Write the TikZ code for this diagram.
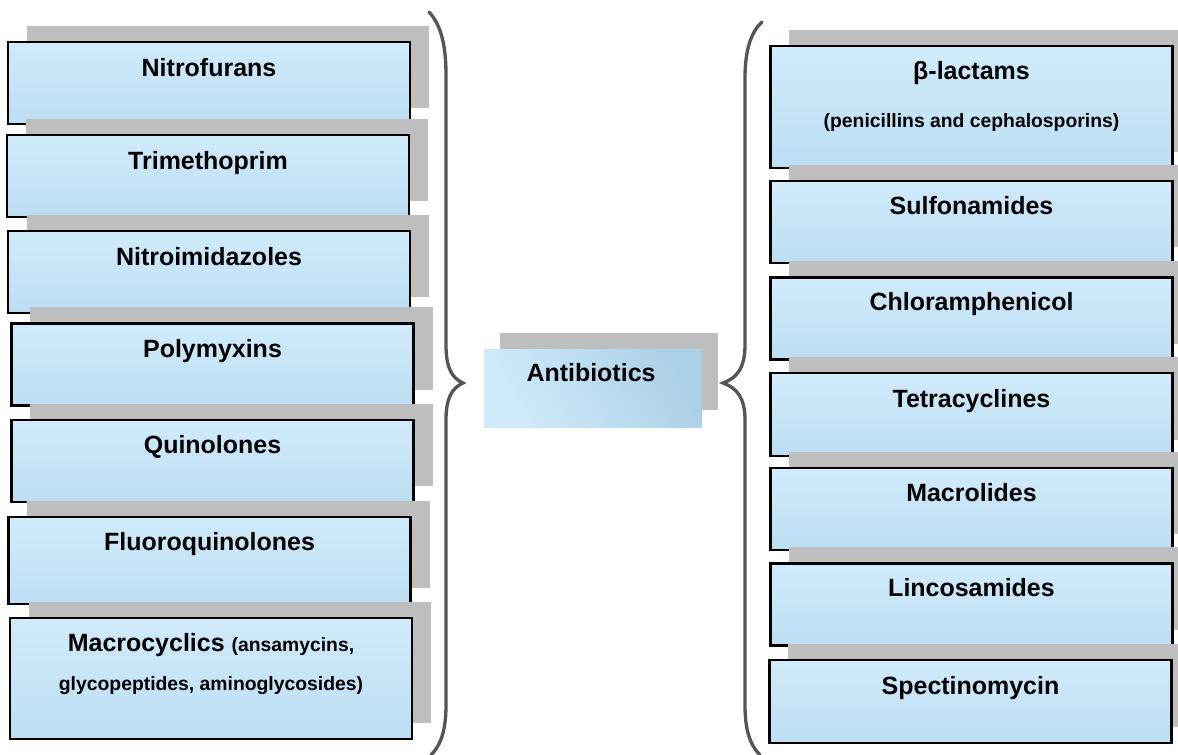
\documentclass[tikz,border=0pt]{standalone}
\usepackage{fontspec}
\setmainfont{Liberation Sans}
\usepackage{xcolor}
\usetikzlibrary{shadows}
\definecolor{xboxlight}{RGB}{208,235,250}
\definecolor{xboxblue}{RGB}{188,222,243}
\definecolor{xboxdark}{RGB}{172,208,232}
\definecolor{xshade}{RGB}{190,190,190}
\definecolor{xbrace}{RGB}{85,85,85}

\begin{document}
\begin{tikzpicture}[
  x=0.01cm, y=-0.01cm,
  drug/.style={draw=black, line width=0.65pt, top color=xboxlight, bottom color=xboxblue,
               minimum width=4.02cm, minimum height=0.82cm, inner sep=0pt,
               drop shadow={shadow xshift=0.19cm, shadow yshift=0.16cm, fill=xshade, opacity=1}},
  root/.style={left color=xboxlight, right color=xboxdark, shading angle=120,
               minimum width=2.18cm, minimum height=0.77cm, inner sep=0pt,
               drop shadow={shadow xshift=0.16cm, shadow yshift=0.17cm, fill=xshade, opacity=1}},
  drugtext/.style={anchor=base, inner sep=0pt, font=\fontsize{7.1}{8}\selectfont\bfseries},
  drugnote/.style={anchor=base, inner sep=0pt, font=\fontsize{5.5}{7}\selectfont\bfseries},
  brace/.style={draw=xbrace, line width=0.95pt, line cap=round}
]
  \useasboundingbox (0,0) rectangle (1178,755);

  % left column
  \node[drug] (nitrof) at (209,83) {};
  \node[drug] (trimet) at (208,176) {};
  \node[drug] (nitroi) at (209,272) {};
  \node[drug] (polymy) at (212.5,364.5) {};
  \node[drug] (quinol) at (212.5,461) {};
  \node[drug, minimum height=0.87cm] (fluoro) at (209.5,560.5) {};
  \node[drug, minimum height=1.21cm] (macroc) at (211,678.5) {};

  \node[drugtext] (tnitrof) at (209,77) {Nitrofurans};
  \node[drugtext] (ttrimet) at (208,170) {Trimethoprim};
  \node[drugtext] (tnitroi) at (209,266) {Nitroimidazoles};
  \node[drugtext] (tpolymy) at (212.5,358) {Polymyxins};
  \node[drugtext] (tquinol) at (212.5,454) {Quinolones};
  \node[drugtext] (tfluoro) at (209.5,551) {Fluoroquinolones};
  \node[drugtext] (tmacroc) at (211,652) {Macrocyclics {\fontsize{5.5}{7}\selectfont(ansamycins,}};
  \node[drugnote] (nmacroc) at (211,691) {glycopeptides, aminoglycosides)};

  % centre
  \node[root] (abx) at (593,388.5) {};
  \node[drugtext] (tabx) at (591,382) {Antibiotics};

  % right column
  \node[drug, minimum height=1.22cm] (betala) at (971.5,107) {};
  \node[drug] (sulfon) at (971.5,222) {};
  \node[drug] (chlora) at (971.5,318.5) {};
  \node[drug, minimum height=0.83cm] (tetrac) at (971.5,414.5) {};
  \node[drug] (macrol) at (971.5,509) {};
  \node[drug] (lincos) at (971.5,604.5) {};
  \node[drug, minimum height=0.83cm] (spectn) at (970.5,701.5) {};

  \node[drugtext] (tbetala) at (971.5,80) {β-lactams};
  \node[drugnote] (nbetala) at (971.5,128) {(penicillins and cephalosporins)};
  \node[drugtext] (tsulfon) at (971.5,215) {Sulfonamides};
  \node[drugtext] (tchlora) at (971.5,311) {Chloramphenicol};
  \node[drugtext] (ttetrac) at (971.5,408) {Tetracyclines};
  \node[drugtext] (tmacrol) at (971.5,502) {Macrolides};
  \node[drugtext] (tlincos) at (971.5,597) {Lincosamides};
  \node[drugtext] (tspectn) at (970.5,695) {Spectinomycin};

  % braces
  \draw[brace] (429,12) .. controls (441,25) and (446,45) .. (446,75) -- (446,345)
    .. controls (446,368) and (452,378) .. (463,383)
    .. controls (452,388) and (446,398) .. (446,420) -- (446,705)
    .. controls (446,730) and (441,745) .. (431,755);
  \draw[brace] (762,22) .. controls (751,32) and (745,50) .. (745,78) -- (745,345)
    .. controls (745,368) and (737,378) .. (723,383)
    .. controls (737,388) and (745,398) .. (745,420) -- (745,705)
    .. controls (745,730) and (750,745) .. (760,755);
\end{tikzpicture}
\end{document}
